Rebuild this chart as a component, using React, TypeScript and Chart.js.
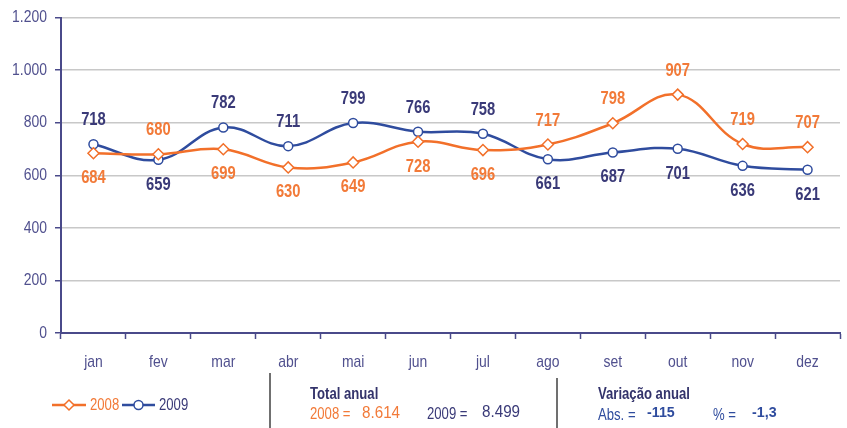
import React, { useEffect, useRef } from "react";
import { Chart, registerables } from "chart.js";

Chart.register(...registerables);

const months = ["jan", "fev", "mar", "abr", "mai", "jun", "jul", "ago", "set", "out", "nov", "dez"];
const values2008 = [684, 680, 699, 630, 649, 728, 696, 717, 798, 907, 719, 707];
const values2009 = [718, 659, 782, 711, 799, 766, 758, 661, 687, 701, 636, 621];
const seriesNames = ["2008", "2009"];
const totalAnual = ["8.614", "8.499"];
const variacaoAbs = "-115";
const variacaoPct = "-1,3";
const yMin = 0;
const yMax = 1200;
const yStep = 200;

const ORANGE = "#f2702a";
const ORANGE_TXT = "#f27a38";
const BLUE = "#2f4c9e";
const NAVY = "#3a3a78";
const AXIS = "#4a4a8a";
const AXIS_TXT = "#50508e";
const SANS = '"Liberation Sans", Arial, sans-serif';
const NARROW_SCALE = 0.82;

function fmt(v: number) {
  const s = String(Math.round(v));
  return s.replace(/\B(?=(\d{3})+(?!\d))/g, ".");
}

function narrowText(
  ctx: CanvasRenderingContext2D,
  s: string,
  x: number,
  y: number,
  font: string,
  color: string,
  align: CanvasTextAlign = "left",
  sx: number = NARROW_SCALE
) {
  ctx.save();
  ctx.translate(x, y);
  ctx.scale(sx, 1);
  ctx.font = font;
  ctx.fillStyle = color;
  ctx.textAlign = align;
  ctx.textBaseline = "middle";
  ctx.fillText(s, 0, 0);
  ctx.restore();
}

const axisLabelPlugin = {
  id: "axisLabels",
  afterDraw(chart: any) {
    const ctx = chart.ctx;
    const xs = chart.scales.x;
    const ys = chart.scales.y;
    ys.ticks.forEach((t: any, i: number) => {
      const py = ys.getPixelForTick(i);
      narrowText(ctx, fmt(t.value), 47, py, `17px ${SANS}`, AXIS_TXT, "right");
    });
    xs.ticks.forEach((t: any, i: number) => {
      const px = xs.getPixelForTick(i);
      narrowText(ctx, String(chart.data.labels[i]), px, 362, `17px ${SANS}`, AXIS_TXT, "center");
    });
  },
};

const labelPlugin = {
  id: "valueLabels",
  afterDatasetsDraw(chart: any) {
    const ctx = chart.ctx;
    const sets = chart.data.datasets;
    sets.forEach((ds: any, di: number) => {
      const meta = chart.getDatasetMeta(di);
      const other = sets[1 - di];
      meta.data.forEach((pt: any, i: number) => {
        const v = ds.data[i];
        const above = v >= other.data[i];
        narrowText(
          ctx,
          String(v),
          pt.x,
          pt.y + (above ? -24 : 25),
          `bold 18px ${SANS}`,
          di === 0 ? ORANGE_TXT : NAVY,
          "center"
        );
      });
    });
  },
};

const footerPlugin = {
  id: "footer",
  afterDraw(chart: any) {
    const ctx = chart.ctx;
    ctx.save();
    ctx.strokeStyle = "#707070";
    ctx.lineWidth = 2;
    ctx.beginPath();
    ctx.moveTo(270, 373);
    ctx.lineTo(270, 428);
    ctx.moveTo(557, 378);
    ctx.lineTo(557, 428);
    ctx.stroke();

    const y = 405;
    const sets = chart.data.datasets;
    const drawItem = (x0: number, x1: number, di: number, txtColor: string) => {
      const ds = sets[di];
      ctx.strokeStyle = ds.borderColor;
      ctx.lineWidth = 2.5;
      ctx.beginPath();
      ctx.moveTo(x0, y);
      ctx.lineTo(x1, y);
      ctx.stroke();
      const cx = (x0 + x1) / 2;
      ctx.fillStyle = "#fff";
      ctx.lineWidth = 1.5;
      ctx.beginPath();
      if (ds.pointStyle === "rectRot") {
        ctx.moveTo(cx, y - 5);
        ctx.lineTo(cx + 5, y);
        ctx.lineTo(cx, y + 5);
        ctx.lineTo(cx - 5, y);
        ctx.closePath();
      } else {
        ctx.arc(cx, y, 4.5, 0, Math.PI * 2);
      }
      ctx.fill();
      ctx.stroke();
      narrowText(ctx, ds.label, x1 + 4, y + 1, `16px ${SANS}`, txtColor, "left");
    };
    drawItem(52, 86, 0, ORANGE_TXT);
    drawItem(122, 155, 1, NAVY);

    narrowText(ctx, "Total anual", 310, 395, `bold 16px ${SANS}`, "#33336b");
    narrowText(ctx, `${seriesNames[0]} =`, 310, 415, `16px ${SANS}`, ORANGE_TXT);
    narrowText(ctx, totalAnual[0], 362, 414, `16px ${SANS}`, ORANGE_TXT, "left", 0.95);
    narrowText(ctx, `${seriesNames[1]} =`, 427, 415, `16px ${SANS}`, NAVY);
    narrowText(ctx, totalAnual[1], 482, 413, `16px ${SANS}`, NAVY, "left", 0.95);

    narrowText(ctx, "Variação anual", 598, 395, `bold 16px ${SANS}`, "#33336b");
    narrowText(ctx, "Abs. =", 598, 416, `16px ${SANS}`, BLUE);
    narrowText(ctx, variacaoAbs, 647, 413, `bold 15px ${SANS}`, BLUE, "left", 0.95);
    narrowText(ctx, "% =", 713, 416, `16px ${SANS}`, BLUE);
    narrowText(ctx, variacaoPct, 752, 413, `bold 15px ${SANS}`, BLUE, "left", 0.95);
    ctx.restore();
  },
};

export default function App() {
  const ref = useRef<HTMLCanvasElement | null>(null);
  useEffect(() => {
    if (!ref.current) return;
    const chart = new Chart(ref.current, {
      type: "line",
      data: {
        labels: months,
        datasets: [
          {
            label: seriesNames[0],
            data: values2008,
            borderColor: ORANGE,
            backgroundColor: "#ffffff",
            borderWidth: 2.5,
            pointStyle: "rectRot",
            pointRadius: 5.5,
            pointBorderWidth: 1.5,
            pointBackgroundColor: "#ffffff",
            pointBorderColor: ORANGE,
            tension: 0.4,
          },
          {
            label: seriesNames[1],
            data: values2009,
            borderColor: BLUE,
            backgroundColor: "#ffffff",
            borderWidth: 2.5,
            pointStyle: "circle",
            pointRadius: 4.5,
            pointBorderWidth: 1.5,
            pointBackgroundColor: "#ffffff",
            pointBorderColor: BLUE,
            tension: 0.4,
          },
        ],
      },
      options: {
        responsive: false,
        animation: false,
        layout: { padding: { top: 15, right: 5, left: 0, bottom: 0 } },
        plugins: { legend: { display: false }, tooltip: { enabled: false } },
        scales: {
          x: {
            offset: true,
            grid: {
              offset: true,
              drawOnChartArea: false,
              drawTicks: true,
              tickLength: 6,
              tickColor: AXIS,
              tickWidth: 1.5,
            },
            border: { color: AXIS, width: 2 },
            ticks: { color: "rgba(0,0,0,0)", font: { family: SANS, size: 16 }, padding: 14 },
            afterFit: (s: any) => {
              s.height = 95;
            },
          },
          y: {
            min: yMin,
            max: yMax,
            ticks: {
              stepSize: yStep,
              color: "rgba(0,0,0,0)",
              font: { family: SANS, size: 16 },
              padding: 8,
              callback: (v: any) => fmt(Number(v)),
            },
            grid: { color: "#c8c8c8", lineWidth: 1.5, tickColor: AXIS, tickLength: 6, tickWidth: 1.5 },
            border: { color: AXIS, width: 2 },
            afterFit: (s: any) => {
              s.width = 61;
            },
          },
        },
      },
      plugins: [labelPlugin, axisLabelPlugin, footerPlugin],
    });
    return () => chart.destroy();
  }, []);
  return (
    <div style={{ position: "fixed", left: 0, top: 0, width: 847, height: 428, background: "#fff" }}>
      <canvas ref={ref} width={847} height={428} />
    </div>
  );
}
